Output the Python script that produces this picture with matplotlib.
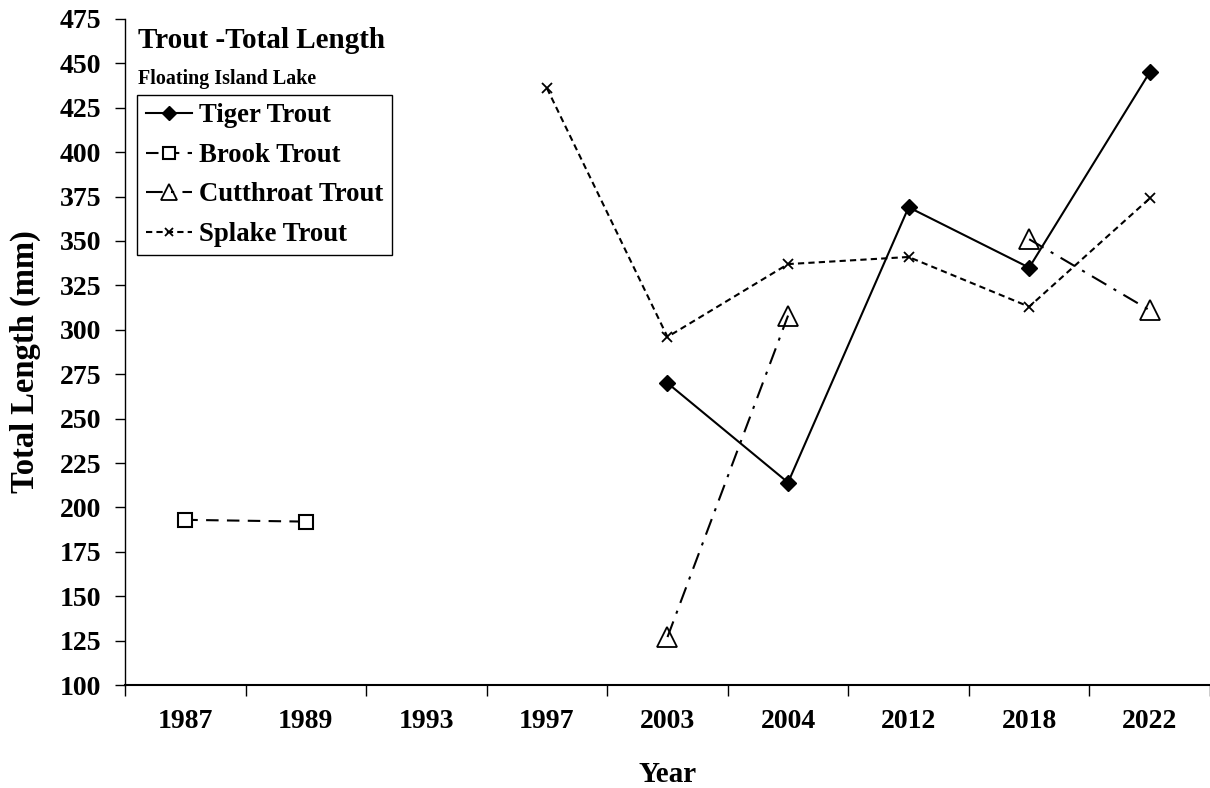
import matplotlib
matplotlib.use("Agg")
import matplotlib.pyplot as plt
import numpy as np

plt.rcParams['font.family'] = ['Liberation Serif', 'DejaVu Serif']
plt.rcParams['font.weight'] = 'bold'

years = ["1987", "1989", "1993", "1997", "2003", "2004", "2012", "2018", "2022"]
nan = np.nan
tiger = [nan, nan, nan, nan, 270, 214, 369, 335, 445]
brook = [193, 192, nan, nan, nan, nan, nan, nan, nan]
cutthroat = [nan, nan, nan, nan, 127, 308, nan, 351, 311]
splake = [nan, nan, nan, 436, 296, 337, 341, 313, 374]

x = np.arange(len(years))

fig = plt.figure(figsize=(12.1, 7.88), dpi=100)
ax = fig.add_axes([0.1033, 0.1307, 0.8967, 0.8452])

ax.plot(x, tiger, color='black', lw=1.5, ls='-', marker='D', ms=8.5,
        mfc='black', mec='black', label='Tiger Trout')
ax.plot(x, brook, color='black', lw=1.5, ls=(0, (6, 4)), marker='s', ms=10,
        mfc='white', mec='black', mew=1.5, label='Brook Trout')
ax.plot(x, cutthroat, color='black', lw=1.5, ls=(0, (8, 4, 1.5, 4)), marker='^', ms=15,
        mfc='none', mec='black', mew=1.3, label='Cutthroat Trout')
ax.plot(x, splake, color='black', lw=1.5, ls=(0, (3, 2)), marker='x', ms=7,
        mec='black', mew=1.3, label='Splake Trout')

ax.set_xlim(-0.5, len(years) - 0.5)
ax.set_ylim(100, 475)
ax.set_yticks(np.arange(100, 476, 25))
ax.set_xticks(x)
ax.set_xticklabels(years)
ax.set_xticks(np.arange(-0.5, len(years), 1), minor=True)
ax.tick_params(axis='x', which='major', length=0, pad=17, labelsize=20)
ax.tick_params(axis='x', which='minor', length=8, width=1, direction='out')
ax.tick_params(axis='y', which='major', length=7, width=1, direction='out', labelsize=20, pad=10)

for s in ['top', 'right']:
    ax.spines[s].set_visible(False)
ax.spines['left'].set_linewidth(1)
ax.spines['bottom'].set_linewidth(1.5)

ax.set_ylabel('Total Length (mm)', fontsize=23.5, fontweight='bold')
ax.yaxis.set_label_coords(-0.077, 0.486)
ax.set_xlabel('Year', fontsize=21, fontweight='bold')
ax.xaxis.set_label_coords(0.5, -0.114)

ax.text(0.012, 0.988, 'Trout -Total Length', transform=ax.transAxes,
        fontsize=21, fontweight='bold', va='top', ha='left')
ax.text(0.012, 0.925, 'Floating Island Lake', transform=ax.transAxes,
        fontsize=14.4, fontweight='bold', va='top', ha='left')

leg = ax.legend(loc='upper left', bbox_to_anchor=(0.011, 0.886), fontsize=19.3,
                frameon=True, fancybox=False, edgecolor='black', handlelength=1.75,
                handletextpad=0.26, borderpad=0.32, labelspacing=0.54, borderaxespad=0)
leg.get_frame().set_linewidth(1)
leg.get_frame().set_alpha(1)
for line in leg.get_lines():
    line.set_markersize(line.get_markersize() * 0.8)

fig.savefig('out.png', dpi=100)
